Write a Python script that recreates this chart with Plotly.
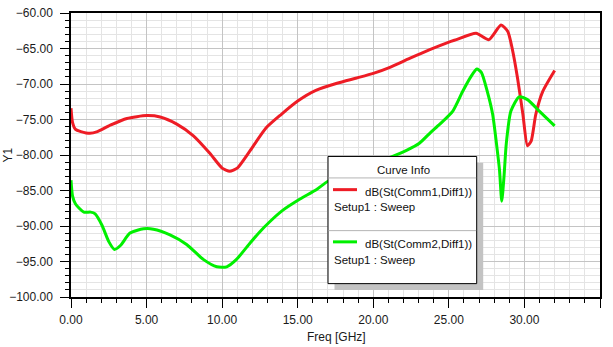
import plotly.graph_objects as go

# ---- data ----
freq_comm1 = [0.0, 0.1, 0.3, 0.65, 1.25, 1.75, 2.6, 3.7, 5.0, 5.9, 7.0, 8.1, 9.2, 10.0, 10.5,
              11.0, 11.85, 12.9, 13.9, 15.0, 16.2, 17.6, 18.9, 20.0, 21.1, 22.4, 23.7, 25.0,
              25.5, 26.8, 27.65, 28.45, 28.9, 29.2, 29.55, 29.9, 30.2, 30.45, 30.75, 31.2, 32.0]
db_comm1 = [-73.4, -75.4, -76.4, -76.7, -76.95, -76.7, -75.8, -74.85, -74.45, -74.65, -75.65,
            -77.3, -79.8, -81.85, -82.3, -81.85, -79.4, -76.2, -74.3, -72.4, -70.9, -69.9,
            -69.15, -68.5, -67.65, -66.4, -65.2, -64.1, -63.75, -62.85, -63.75, -61.7, -62.6,
            -65.1, -69.25, -74.3, -78.7, -78.0, -74.3, -71.1, -68.1]

freq_comm2 = [0.0, 0.1, 0.3, 0.85, 1.3, 1.6, 2.05, 2.5, 2.87, 3.27, 3.9, 4.8, 5.45, 6.55, 7.65,
              8.75, 9.65, 10.3, 10.95, 11.85, 12.5, 13.15, 14.0, 15.15, 16.25, 17.0, 18.5, 20.0,
              21.2, 22.2, 23.05, 23.8, 24.4, 25.25, 25.9, 26.45, 26.85, 27.15, 27.55, 27.9,
              28.15, 28.35, 28.5, 28.65, 28.8, 29.1, 29.65, 30.2, 31.0, 32.0]
db_comm2 = [-83.55, -85.75, -86.9, -88.05, -88.05, -88.3, -89.9, -92.2, -93.3, -92.75, -91.0,
            -90.4, -90.45, -91.25, -92.6, -94.7, -95.75, -95.75, -94.7, -92.4, -90.8, -89.4,
            -87.8, -86.2, -84.85, -83.7, -82.4, -81.2, -80.25, -79.35, -78.35, -76.8, -75.65,
            -73.85, -71.1, -69.0, -67.9, -68.35, -71.1, -74.3, -78.4, -82.1, -86.5, -83.0,
            -78.4, -73.85, -71.8, -72.2, -73.85, -75.9]

x_ticks = [0, 5, 10, 15, 20, 25, 30, 35]
y_ticks = [-100, -95, -90, -85, -80, -75, -70, -65, -60]
series_names = ["dB(St(Comm1,Diff1))", "dB(St(Comm2,Diff1))"]
setup_label = "Setup1 : Sweep"

RED = "#ee1c25"
GREEN = "#00f000"
FONT = "Liberation Sans, Arial, sans-serif"

W, H = 613, 347
ML, MR, MT, MB = 71, 13, 6, 50
PW, PH = W - ML - MR, H - MT - MB


def px(x):
    return (x - ML) / PW


def py(y):
    return (H - MB - y) / PH


fig = go.Figure()
fig.add_trace(go.Scatter(x=freq_comm1, y=db_comm1, mode="lines",
                         line=dict(color=RED, width=3, shape="spline", smoothing=0.6),
                         name=series_names[0]))
fig.add_trace(go.Scatter(x=freq_comm2, y=db_comm2, mode="lines",
                         line=dict(color=GREEN, width=3, shape="spline", smoothing=0.6),
                         name=series_names[1]))

axis_common = dict(
    showline=True, linecolor="black", linewidth=1.5, mirror=True,
    showgrid=True, gridcolor="#c4c4c4", gridwidth=1,
    ticks="outside", ticklen=9, tickcolor="black", tickwidth=1,
    tickformat=".2f", zeroline=False,
    tickfont=dict(family=FONT, size=12, color="#1a1a1a"),
    minor=dict(dtick=1, showgrid=True, gridcolor="#e4e4e4", gridwidth=1,
               ticks="outside", ticklen=4, tickcolor="black", tickwidth=1),
)

fig.update_xaxes(range=[0, 35], tickvals=x_ticks, ticklabelstandoff=2, **axis_common)
fig.update_yaxes(range=[-100, -60], tickvals=y_ticks, ticklabelstandoff=5, **axis_common)

# legend box ("Curve Info")
bx0, by0, bx1, by1 = 328, 153, 476.7, 283.3
shapes = [
    dict(type="rect", xref="paper", yref="paper", x0=px(bx0 + 6.5), x1=px(bx1 + 6.5),
         y0=py(by0 + 6.5), y1=py(by1 + 6.5), fillcolor="#c3c3c3", line=dict(width=0), layer="above"),
    dict(type="rect", xref="paper", yref="paper", x0=px(bx0), x1=px(bx1),
         y0=py(by0), y1=py(by1), fillcolor="white", line=dict(color="black", width=1), layer="above"),
    dict(type="line", xref="paper", yref="paper", x0=px(bx0 + 0.5), x1=px(bx1 - 0.5),
         y0=py(175), y1=py(175), line=dict(color="#b4b4b4", width=1), layer="above"),
    dict(type="line", xref="paper", yref="paper", x0=px(bx0 + 0.5), x1=px(bx1 - 0.5),
         y0=py(229), y1=py(229), line=dict(color="#b4b4b4", width=1), layer="above"),
    dict(type="line", xref="paper", yref="paper", x0=px(333), x1=px(357),
         y0=py(187), y1=py(187), line=dict(color=RED, width=3), layer="above"),
    dict(type="line", xref="paper", yref="paper", x0=px(333), x1=px(357),
         y0=py(240.5), y1=py(240.5), line=dict(color=GREEN, width=3), layer="above"),
]

lf = dict(family=FONT, size=11.5, color="#111")
annotations = [
    dict(text="Curve Info", x=px(403), y=py(167), xref="paper", yref="paper",
         showarrow=False, xanchor="center", yanchor="middle", font=lf),
    dict(text=series_names[0], x=px(473.5), y=py(189), xref="paper", yref="paper",
         showarrow=False, xanchor="right", yanchor="middle", font=lf),
    dict(text=setup_label, x=px(332), y=py(205), xref="paper", yref="paper",
         showarrow=False, xanchor="left", yanchor="middle", font=lf),
    dict(text=series_names[1], x=px(473.5), y=py(243), xref="paper", yref="paper",
         showarrow=False, xanchor="right", yanchor="middle", font=lf),
    dict(text=setup_label, x=px(332), y=py(259), xref="paper", yref="paper",
         showarrow=False, xanchor="left", yanchor="middle", font=lf),
    dict(text="Freq [GHz]", x=px(336), y=py(338), xref="paper", yref="paper",
         showarrow=False, xanchor="center", yanchor="middle",
         font=dict(family=FONT, size=12, color="#1a1a1a")),
    dict(text="Y1", x=px(8), y=py(152), xref="paper", yref="paper", textangle=-90,
         showarrow=False, xanchor="center", yanchor="middle",
         font=dict(family=FONT, size=12, color="#1a1a1a")),
]

fig.update_layout(
    width=W, height=H, autosize=False,
    margin=dict(l=ML, r=MR, t=MT, b=MB, pad=0),
    paper_bgcolor="white", plot_bgcolor="white",
    showlegend=False,
    shapes=shapes, annotations=annotations,
)

fig.write_html("out.html")
